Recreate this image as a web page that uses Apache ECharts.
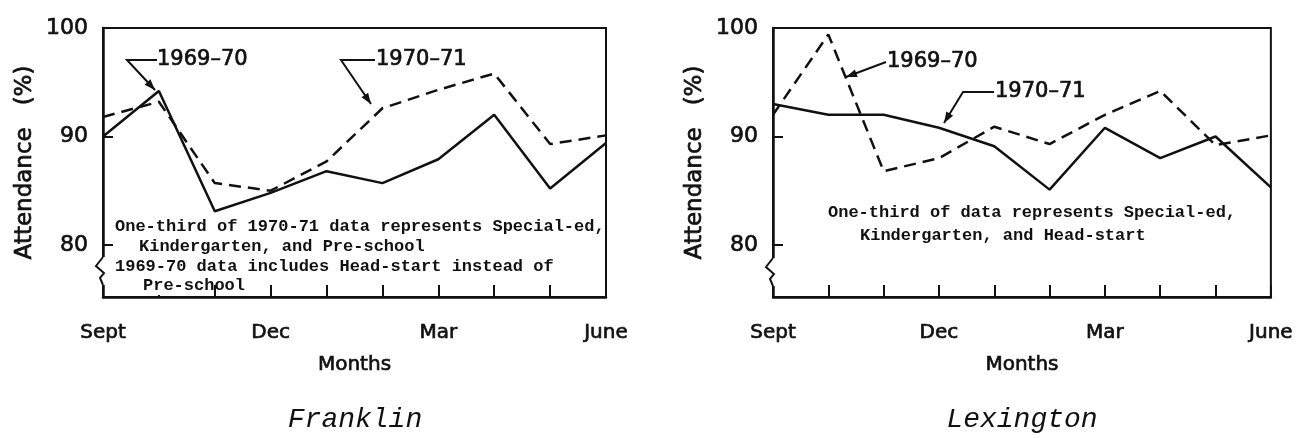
<!DOCTYPE html>
<html>
<head>
<meta charset="utf-8">
<script src="https://cdn.jsdelivr.net/npm/echarts@6/dist/echarts.min.js"></script>
<style>
	html, body { margin: 0; padding: 0; background: #fff; }
	#main { width: 1296px; height: 438px; }
</style>
</head>
<body>
<div id="main"></div>
<script>
	var months = ['Sept', 'Oct', 'Nov', 'Dec', 'Jan', 'Feb', 'Mar', 'Apr', 'May', 'June'];
	var yTicks = [80, 90, 100];

	// Franklin
	var franklin6970 = [90.0, 94.2, 83.1, 84.8, 86.8, 85.7, 87.9, 92.0, 85.2, 89.4];
	var franklin7071 = [91.8, 93.2, 85.7, 85.0, 87.7, 92.6, 94.3, 95.8, 89.3, 90.1];

	// Lexington
	var lexington6970 = [92.0, 99.4, 86.8, 88.0, 90.9, 89.3, 92.0, 94.2, 89.2, 90.1];
	var lexington7071 = [93.0, 92.0, 92.0, 90.8, 89.1, 85.1, 90.8, 88.0, 90.0, 85.3];

	var sans = 'DejaVu Sans';
	var mono = 'Liberation Mono';
	var ink = '#111';
	var halo = 0.7; // thickens the regular face a little

	var myChart = echarts.init(document.getElementById('main'));

	function txt(size) {
		return { color: ink, fontFamily: sans, fontSize: size, textBorderColor: ink, textBorderWidth: halo };
	}

	function xAxisFor(i) {
		return {
			type: 'category',
			gridIndex: i,
			data: months,
			boundaryGap: false,
			axisLine: { lineStyle: { color: ink, width: 2.5 } },
			axisTick: { inside: true, length: 12, interval: 0, lineStyle: { color: ink, width: 2 } },
			axisLabel: Object.assign({ interval: 2, margin: 26 }, txt(20)),
			name: 'Months',
			nameLocation: 'middle',
			nameGap: 58,
			nameTextStyle: txt(20),
			splitLine: { show: false }
		};
	}

	function yAxisFor(i) {
		return {
			type: 'value',
			gridIndex: i,
			min: 75.2,
			max: 100,
			axisLine: { show: true, lineStyle: { color: ink, width: 2.5 } },
			axisTick: { show: true, inside: true, length: 10, customValues: yTicks, lineStyle: { color: ink, width: 2 } },
			axisLabel: Object.assign({ customValues: yTicks, margin: 15 }, txt(22)),
			name: 'Attendance   (%)',
			nameLocation: 'middle',
			nameRotate: 90,
			nameGap: 66,
			nameTextStyle: txt(23),
			splitLine: { show: false }
		};
	}

	function line(i, data, dashed) {
		return {
			type: 'line',
			xAxisIndex: i,
			yAxisIndex: i,
			data: data,
			symbol: 'none',
			silent: true,
			lineStyle: { color: ink, width: 2.5, type: dashed ? [12, 7] : 'solid' }
		};
	}

	// leader line with arrow head at the last point
	function leader(pts) {
		var a = pts[pts.length - 2], b = pts[pts.length - 1];
		var ang = Math.atan2(b[1] - a[1], b[0] - a[0]);
		var L = 11, W = 4;
		var bx = b[0] - L * Math.cos(ang), by = b[1] - L * Math.sin(ang);
		var head = [
			[b[0], b[1]],
			[bx + W * Math.sin(ang), by - W * Math.cos(ang)],
			[bx - W * Math.sin(ang), by + W * Math.cos(ang)]
		];
		return [{
			type: 'polyline', shape: { points: pts }, style: { stroke: ink, lineWidth: 2, fill: null }, z: 10
		}, {
			type: 'polygon', shape: { points: head }, style: { fill: ink }, z: 10
		}];
	}

	function label(x, y, t) {
		return {
			type: 'text', x: x, y: y, z: 10,
			style: { text: t, fill: ink, stroke: ink, lineWidth: halo, font: '21px "' + sans + '"', verticalAlign: 'middle' }
		};
	}

	function note(x, y, t) {
		return {
			type: 'text', x: x, y: y, z: 10,
			style: { text: t, fill: ink, font: 'bold 17px "' + mono + '"', verticalAlign: 'middle' }
		};
	}

	// axis break
	function brk(x, y) {
		return [{
			type: 'rect', shape: { x: x - 3, y: y, width: 6, height: 28 }, style: { fill: '#fff' }, z: 20
		}, {
			type: 'polyline', z: 21,
			shape: { points: [[x, y], [x - 7, y + 9], [x + 1, y + 16], [x - 3, y + 21], [x, y + 28]] },
			style: { stroke: ink, lineWidth: 2, fill: null }
		}];
	}

	var graphics = [].concat(
		leader([[157, 60], [127, 60], [155, 90]]),
		leader([[375, 60], [341, 60], [371, 104]]),
		leader([[886, 62], [846, 77]]),
		leader([[994, 92], [963, 92], [944, 123]]),
		brk(103, 257),
		brk(773, 258),
		[
			label(157, 60, '1969\u201370'),
			label(376, 60, '1970\u201371'),
			label(887, 62, '1969\u201370'),
			label(995, 92, '1970\u201371'),
			{
				type: 'rect', shape: { x: 112, y: 276, width: 100, height: 19 }, style: { fill: '#fff' }, z: 9
			},
			note(115, 227, 'One-third of 1970-71 data represents Special-ed,'),
			note(139, 247, 'Kindergarten, and Pre-school'),
			note(115, 267, '1969-70 data includes Head-start instead of'),
			note(143, 286, 'Pre-school'),
			note(828, 213, 'One-third of data represents Special-ed,'),
			note(860, 236, 'Kindergarten, and Head-start'),
			{
				type: 'text', x: 355, y: 420, z: 10,
				style: { text: 'Franklin', fill: ink, font: 'italic 28px "' + mono + '"', align: 'center', verticalAlign: 'middle' }
			},
			{
				type: 'text', x: 1022, y: 420, z: 10,
				style: { text: 'Lexington', fill: ink, font: 'italic 28px "' + mono + '"', align: 'center', verticalAlign: 'middle' }
			}
		]
	);

	var option = {
		animation: false,
		backgroundColor: '#fff',
		grid: [
			{ left: 103, top: 28, width: 503, height: 269, show: true, borderColor: ink, borderWidth: 2 },
			{ left: 773, top: 28, width: 499, height: 269, show: true, borderColor: ink, borderWidth: 2 }
		],
		xAxis: [xAxisFor(0), xAxisFor(1)],
		yAxis: [yAxisFor(0), yAxisFor(1)],
		series: [
			line(0, franklin6970, false),
			line(0, franklin7071, true),
			line(1, lexington6970, true),
			line(1, lexington7071, false)
		],
		graphic: graphics
	};

	myChart.setOption(option, true);
	window.onresize = function() {
		myChart.resize();
	};
</script>
</body>
</html>
